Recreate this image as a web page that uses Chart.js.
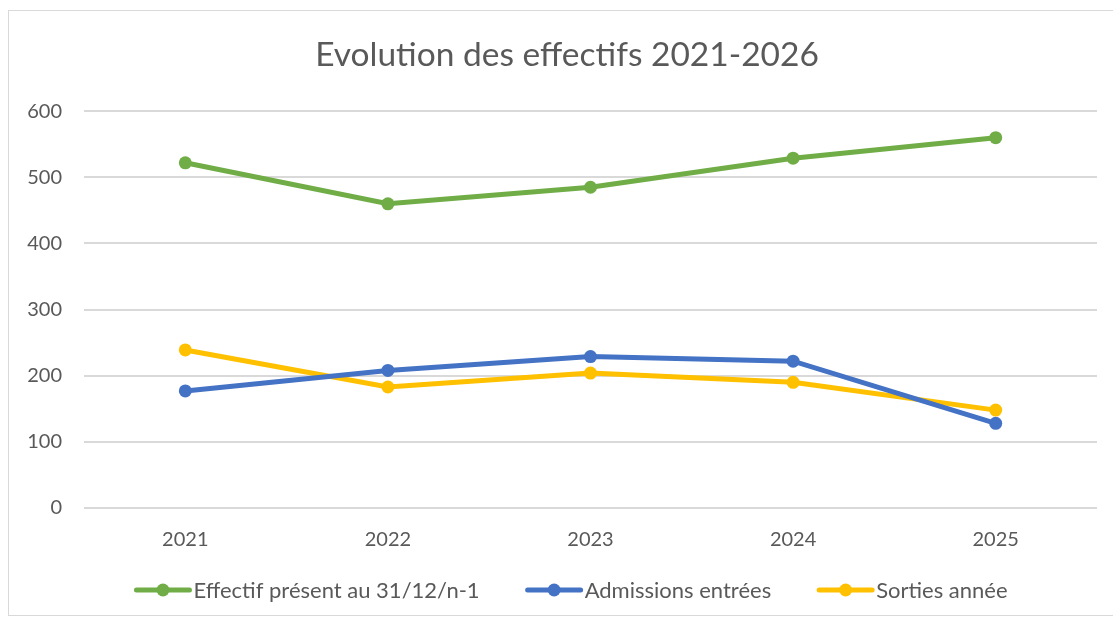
<!DOCTYPE html>
<html>
<head>
<meta charset="utf-8">
<script src="https://cdn.jsdelivr.net/npm/chart.js@4.4.1/dist/chart.umd.min.js"></script>
<style>
  html,body{margin:0;padding:0;background:#fff;overflow:hidden}
  #box{position:absolute;left:8px;top:10px;width:1120px;height:604px;border:1px solid #d9d9d9}
  #box canvas{position:absolute;left:0;top:0}
</style>
</head>
<body>
<div id="box"><canvas id="chart" width="1104" height="604"></canvas></div>
<script>
// données
const years = ['2021','2022','2023','2024','2025'];
const effectif = [522, 460, 485, 529, 560];
const admissions = [177, 208, 229, 222, 128];
const sorties = [239, 183, 204, 190, 148];
const yTicks = [0, 100, 200, 300, 400, 500, 600];

const FONT = 'Lato';
const GREY = '#595959';

const series = [
  { label:'Effectif présent au 31/12/n-1', data:effectif, color:'#70AD47' },
  { label:'Admissions entrées', data:admissions, color:'#4472C4' },
  { label:'Sorties année', data:sorties, color:'#FFC000' }
];

// titre un peu décalé à droite comme dans Excel
const shiftTitle = {
  id:'shiftTitle',
  afterLayout(chart){
    const t = chart.titleBlock; if(!t) return;
    t.left += 14; t.right += 14;
  }
};

// légende façon Excel : trait + rond
const excelLegend = {
  id:'excelLegend',
  afterDraw(chart){
    const ctx = chart.ctx;
    const lineW = 57, gap = 2, between = 46, cy = 579;
    ctx.save();
    ctx.font = '22px ' + FONT;
    const widths = series.map(s => ctx.measureText(s.label).width);
    const total = widths.reduce((a,b)=>a+b,0) + series.length*(lineW+gap) + (series.length-1)*between;
    let x = 562 - total/2;
    series.forEach((s,i)=>{
      ctx.strokeStyle = s.color; ctx.lineWidth = 5; ctx.lineCap = 'round';
      ctx.beginPath(); ctx.moveTo(x+2, cy); ctx.lineTo(x+lineW-2, cy); ctx.stroke();
      ctx.fillStyle = s.color;
      ctx.beginPath(); ctx.arc(x+lineW/2, cy, 6.5, 0, Math.PI*2); ctx.fill();
      ctx.fillStyle = GREY; ctx.textBaseline = 'middle'; ctx.textAlign = 'left';
      ctx.fillText(s.label, x+lineW+gap, cy+1);
      x += lineW + gap + widths[i] + between;
    });
    ctx.restore();
  }
};

new Chart(document.getElementById('chart'), {
  type:'line',
  data:{
    labels:years,
    datasets:series.map(s=>({
      label:s.label, data:s.data,
      borderColor:s.color, backgroundColor:s.color,
      borderWidth:5, pointRadius:6.5, pointHoverRadius:6.5,
      pointBorderWidth:0, tension:0
    }))
  },
  options:{
    responsive:false, animation:false,
    layout:{ padding:{ left:0, right:16, top:0, bottom:45 } },
    plugins:{
      legend:{ display:false },
      tooltip:{ enabled:false },
      title:{
        display:true, text:'Evolution des effectifs 2021-2026',
        color:GREY, font:{ family:FONT, size:33.5, weight:'normal' },
        padding:{ top:24, bottom:36 }
      }
    },
    scales:{
      x:{
        offset:true,
        grid:{ display:false, drawTicks:false },
        border:{ display:false },
        ticks:{ color:GREY, font:{ family:FONT, size:20 }, padding:20 },
        afterFit:s=>{ s.height = 62; }
      },
      y:{
        min:0, max:600,
        afterBuildTicks:s=>{ s.ticks = yTicks.map(v=>({ value:v })); },
        grid:{ color:'#d9d9d9', lineWidth:2, drawTicks:false },
        border:{ display:false },
        ticks:{ color:GREY, font:{ family:FONT, size:20 }, padding:22 },
        afterFit:s=>{ s.width = 75; }
      }
    }
  },
  plugins:[shiftTitle, excelLegend]
});
</script>
</body>
</html>
